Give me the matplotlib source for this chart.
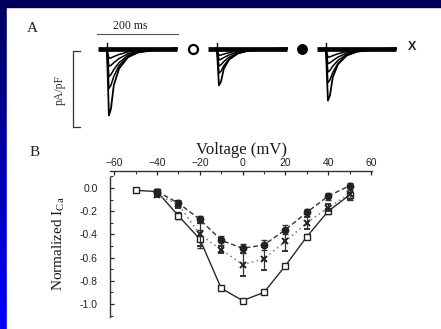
import numpy as np
import matplotlib
matplotlib.use("Agg")
import matplotlib.pyplot as plt
from matplotlib.patches import Rectangle
from matplotlib.ticker import MultipleLocator, FormatStrFormatter

W, H = 441, 329

# ---- Panel A: current traces (ms, pA/pF) ----
group_start = [0.0, 271.6, 540.7]          # ms, start of each trace family
stim_delay = 22.0                          # ms from family start to the step
family_len = 195.0                         # ms
trace_times = [0, 5, 10, 17, 30, 52, 77, 126, 173]   # ms after the step
trace_shapes = [
    [0, 1, 0.90, 0.55, 0.30, 0.13, 0.06, 0.015, 0],
    [0, 1, 0.92, 0.70, 0.43, 0.20, 0.09, 0.025, 0],
    [0, 1, 0.93, 0.75, 0.50, 0.25, 0.11, 0.03, 0],
    [0, 1, 0.94, 0.80, 0.56, 0.30, 0.14, 0.04, 0],
    [0, 1, 0.95, 0.82, 0.60, 0.35, 0.18, 0.05, 0],
]
trace_peaks = [
    [-17.6, -10.5, -7.4, -4.7, -2.6],
    [-9.7, -6.5, -4.6, -3.0, -1.8],
    [-13.7, -9.0, -6.2, -4.0, -2.3],
]
group_mark_x = [234.6, 503.7, 775.3]

# ---- Panel B: normalized I-V relations ----
v_ctrl = [-50, -40, -30, -20, -10, 0, 10, 20, 30, 40, 50]
i_ctrl = [-0.02, -0.03, -0.24, -0.44, -0.865, -0.97, -0.90, -0.67, -0.42, -0.20, -0.06]
e_ctrl = [0.01, 0.02, 0.03, 0.08, 0.01, 0.01, 0.01, 0.01, 0.02, 0.02, 0.04]

v_fill = [-40, -30, -20, -10, 0, 10, 20, 30, 40, 50]
i_fill = [-0.03, -0.13, -0.27, -0.45, -0.52, -0.49, -0.36, -0.21, -0.07, 0.02]
e_fill = [0.02, 0.03, 0.03, 0.04, 0.04, 0.04, 0.04, 0.03, 0.03, 0.02]

v_x = [-40, -30, -20, -10, 0, 10, 20, 30, 40, 50]
i_x = [-0.06, -0.14, -0.40, -0.53, -0.66, -0.61, -0.46, -0.30, -0.17, -0.05]
e_x = [0.02, 0.03, 0.10, 0.03, 0.10, 0.10, 0.08, 0.05, 0.03, 0.05]

SERIF = ["Liberation Serif", "DejaVu Serif"]
SANS = ["Liberation Sans", "DejaVu Sans"]
plt.rcParams["mathtext.fontset"] = "custom"
plt.rcParams["mathtext.rm"] = "Liberation Serif"
plt.rcParams["mathtext.it"] = "Liberation Serif:italic"


def px_box(l, t, r, b):
    return [l / W, 1 - b / H, (r - l) / W, (b - t) / H]


fig = plt.figure(figsize=(W / 100, H / 100), dpi=100)

# slide background: blue frame with a white panel
bg = fig.add_axes([0, 0, 1, 1])
grad = np.linspace(0, 1, 256)
rgb = np.zeros((256, 1, 3))
rgb[:, 0, 2] = 0.36 + 0.64 * grad
bg.imshow(rgb, extent=[0, 1, 0, 1], aspect="auto", origin="upper")
bg.add_patch(Rectangle((7 / W, 0), 1, (H - 7) / H, color="white"))
bg.add_patch(Rectangle((0, (H - 7) / H), 1, 7 / H, color="#00005a"))
bg.set_xlim(0, 1)
bg.set_ylim(0, 1)
bg.axis("off")

# ---------------- Panel A ----------------
axA = fig.add_axes(px_box(50, 18, 425, 132))
axA.set_xlim(-118.5, 807.4)
axA.set_ylim(-21.97, 8.03)
axA.axis("off")

for g, t0 in enumerate(group_start):
    stim = t0 + stim_delay
    axA.plot([t0, t0 + family_len], [0, 0], color="black", lw=3.4,
             solid_capstyle="butt")
    for k, shape in enumerate(trace_shapes):
        tt = [stim + t for t in trace_times]
        yy = [trace_peaks[g][k] * f for f in shape]
        axA.plot(tt, yy, color="black", lw=1.3 if k == 0 else 1.1)
    axA.plot([stim, stim], [1.4, 0], color="black", lw=1.0)

axA.plot(group_mark_x[0], 0, "o", ms=6.5, mfc="white", mec="black", mew=1.6)
axA.plot(group_mark_x[1], 0, "o", ms=6.8, mfc="black", mec="black")
axA.text(group_mark_x[2], 0.3, "X", ha="center", va="center",
         fontsize=9, family=SANS, fontweight="bold", color="#222222")

# 200 ms scale bar
axA.plot([-2.5, 197.5], [3.8, 3.8], color="#555555", lw=0.8)
axA.text(79, 6.0, "200 ms", ha="center", va="center", fontsize=8.5,
         family=SERIF, color="#222222")

# pA/pF scale bracket
axA.plot([-44.4, -61.7, -61.7, -44.4], [-0.66, -0.66, -20.66, -20.66],
         color="#333333", lw=0.9)
axA.text(-93.8, -10.9, "pA/pF", rotation=90, ha="center", va="center",
         fontsize=8.5, family=SERIF, color="#333333")

fig.text(32 / W, 1 - 28 / H, "A", ha="center", va="center",
         fontsize=11, family=SERIF, color="#222222")
fig.text(35 / W, 1 - 153 / H, "B", ha="center", va="center",
         fontsize=11, family=SERIF, color="#222222")

# ---------------- Panel B ----------------
axB = fig.add_axes(px_box(110, 171, 372, 317))
axB.set_xlim(-62, 60.5)
axB.set_ylim(-1.112, 0.147)
axB.set_facecolor("none")

axB.errorbar(v_ctrl, i_ctrl, yerr=e_ctrl, color="#2a2a2a", lw=1.0,
             marker="s", ms=4.2, mfc="white", mec="#222222", mew=1.0,
             ecolor="#333333", elinewidth=0.9, capsize=2.2, zorder=3)
axB.errorbar(v_fill, i_fill, yerr=e_fill, color="#333333", lw=1.0,
             ls=(0, (3.5, 2.0)), marker="o", ms=4.6, mfc="#222222",
             mec="#222222", ecolor="#333333", elinewidth=0.9, capsize=2.2,
             zorder=4)
axB.errorbar(v_x, i_x, yerr=e_x, color="#777777", lw=1.1,
             ls=(0, (1.0, 2.2)), marker="x", ms=4.2, mec="#222222",
             mew=1.4, ecolor="#333333", elinewidth=0.9, capsize=2.2,
             zorder=4)

for s in ["right", "bottom"]:
    axB.spines[s].set_visible(False)
axB.spines["left"].set_bounds(-1.112, 0.095)
axB.spines["left"].set_color("#333333")
axB.spines["top"].set_color("#333333")
axB.spines["left"].set_linewidth(1.0)
axB.spines["top"].set_linewidth(1.0)

axB.xaxis.set_ticks_position("top")
axB.xaxis.set_label_position("top")
axB.set_xticks([-60, -40, -20, 0, 20, 40, 60])
axB.xaxis.set_minor_locator(MultipleLocator(10))
axB.set_yticks([-1.0, -0.8, -0.6, -0.4, -0.2, 0.0])
axB.yaxis.set_minor_locator(MultipleLocator(0.1))
axB.yaxis.set_major_formatter(FormatStrFormatter("%.1f"))
axB.tick_params(axis="x", which="major", direction="in", length=3,
                width=0.9, pad=2, labelsize=7.5, colors="#222222")
axB.tick_params(axis="x", which="minor", direction="in", length=2,
                width=0.8, colors="#333333")
axB.tick_params(axis="y", which="major", direction="in", length=3,
                width=0.9, pad=9, labelsize=7.5, colors="#222222")
axB.tick_params(axis="y", which="minor", direction="in", length=2,
                width=0.8, colors="#333333")
for lab in axB.get_xticklabels() + axB.get_yticklabels():
    lab.set_family(SANS)

axB.set_xlabel("Voltage (mV)", fontsize=12, family=SERIF, color="#1a1a1a",
               labelpad=3)
axB.set_ylabel(r"Normalized I$_{\mathrm{Ca}}$", fontsize=11, family=SERIF,
               color="#1a1a1a", labelpad=9)

fig.savefig("out.png", dpi=100)
